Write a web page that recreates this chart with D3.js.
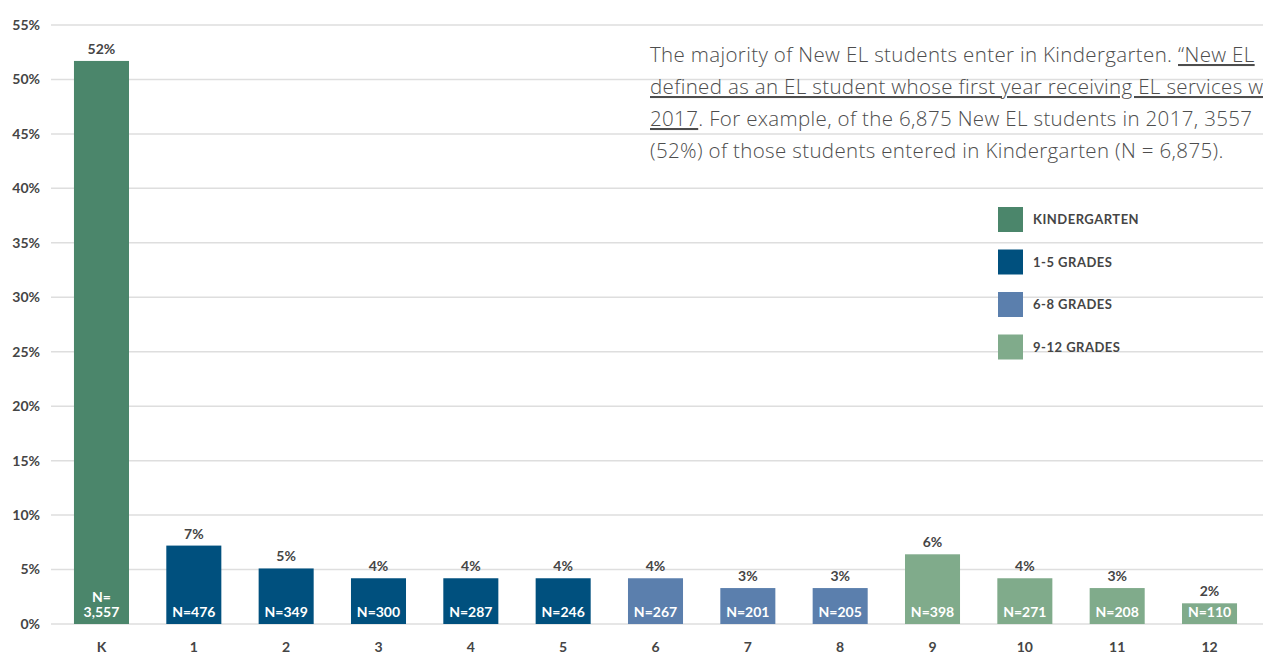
<!DOCTYPE html>
<html>
<head>
<meta charset="utf-8">
<script src="https://cdn.jsdelivr.net/npm/d3@7"></script>
<style>
  body { margin: 0; background: #fff; }
  svg { display: block; font-family: Lato, "Open Sans", sans-serif; }
</style>
</head>
<body>
<svg id="chart" width="1263" height="655"></svg>
<script>
// grades and share of new EL students (percent)
const grades = ["K", "1", "2", "3", "4", "5", "6", "7", "8", "9", "10", "11", "12"]
const shares = [51.7, 7.2, 5.1, 4.2, 4.2, 4.2, 4.2, 3.3, 3.3, 6.4, 4.2, 3.3, 1.9]
const counts = ["3,557", "476", "349", "300", "287", "246", "267", "201", "205", "398", "271", "208", "110"]
const bands = ["KINDERGARTEN", "1-5 GRADES", "1-5 GRADES", "1-5 GRADES", "1-5 GRADES", "1-5 GRADES",
  "6-8 GRADES", "6-8 GRADES", "6-8 GRADES", "9-12 GRADES", "9-12 GRADES", "9-12 GRADES", "9-12 GRADES"]
const legendKeys = ["KINDERGARTEN", "1-5 GRADES", "6-8 GRADES", "9-12 GRADES"]
const yTicks = [0, 5, 10, 15, 20, 25, 30, 35, 40, 45, 50, 55]

const svg = d3.select("#chart")
const width = 1263

const color = d3.scaleOrdinal().domain(legendKeys).range(["#4b866b", "#00507e", "#5b7fad", "#80ab8b"])

const x = d3.scaleBand().domain(grades).range([55.5, 1255.5]).paddingInner(0.404).paddingOuter(0.2)
const y = d3.scaleLinear().domain([0, 55]).range([624, 25])

// gridlines + y labels
const grid = svg.append("g")
grid.selectAll("line").data(yTicks).enter().append("line")
  .attr("x1", 51).attr("x2", width)
  .attr("y1", (d) => y(d)).attr("y2", (d) => y(d))
  .attr("stroke", "#dedede").attr("stroke-width", 1.5)
grid.selectAll("text").data(yTicks).enter().append("text")
  .attr("x", 40).attr("y", (d) => y(d)).attr("dy", "0.35em")
  .attr("text-anchor", "end").attr("font-size", 14).attr("font-weight", 700).attr("fill", "#454545")
  .text((d) => d + "%")

// annotation text (runs past the right edge like the original)
const note = svg.append("g").attr("font-family", "'Open Sans', sans-serif")
  .attr("font-size", 20.5).attr("font-weight", 300).attr("letter-spacing", 0.35).attr("fill", "#4d4d4d")
const noteLines = [
  [["The majority of New EL students enter in Kindergarten. ", false], ["\u201cNew EL", true]],
  [["defined as an EL student whose first year receiving EL services w", true]],
  [["2017", true], [". For example, of the 6,875 New EL students in 2017, 3557", false]],
  [["(52%) of those students entered in Kindergarten (N = 6,875).", false]]
]
noteLines.forEach((parts, i) => {
  const t = note.append("text").attr("x", 650).attr("y", 62 + i * 32)
  parts.forEach((p) => {
    t.append("tspan").text(p[0]).attr("text-decoration", p[1] ? "underline" : null)
  })
})

// bars
const bars = svg.append("g")
bars.selectAll("rect").data(grades).enter().append("rect")
  .attr("x", (d) => x(d)).attr("width", x.bandwidth())
  .attr("y", (d, i) => y(shares[i])).attr("height", (d, i) => y(0) - y(shares[i]))
  .attr("fill", (d, i) => color(bands[i]))

// percent labels
bars.selectAll(".pct").data(grades).enter().append("text").attr("class", "pct")
  .attr("x", (d) => x(d) + x.bandwidth() / 2).attr("y", (d, i) => y(shares[i]) - 7)
  .attr("text-anchor", "middle").attr("font-size", 14).attr("font-weight", 700).attr("fill", "#454545")
  .text((d, i) => Math.round(shares[i]) + "%")

// N labels inside bars
bars.selectAll(".n").data(grades).enter().append("text").attr("class", "n")
  .attr("x", (d) => x(d) + x.bandwidth() / 2).attr("y", 617)
  .attr("text-anchor", "middle").attr("font-size", 14).attr("font-weight", 700).attr("fill", "#fff")
  .each(function (d, i) {
    const t = d3.select(this)
    if (counts[i].length > 4) {
      t.append("tspan").attr("x", x(d) + x.bandwidth() / 2).attr("dy", "-1.1em").text("N=")
      t.append("tspan").attr("x", x(d) + x.bandwidth() / 2).attr("dy", "1.1em").text(counts[i])
    } else {
      t.text("N=" + counts[i])
    }
  })

// x labels
svg.append("g").selectAll("text").data(grades).enter().append("text")
  .attr("x", (d) => x(d) + x.bandwidth() / 2).attr("y", 652)
  .attr("text-anchor", "middle").attr("font-size", 14).attr("font-weight", 700).attr("fill", "#454545")
  .text((d) => d)

// legend
const legend = svg.append("g").selectAll("g").data(legendKeys).enter().append("g")
  .attr("transform", (d, i) => `translate(998,${207 + i * 42.5})`)
legend.append("rect").attr("width", 25).attr("height", 25).attr("fill", (d) => color(d))
legend.append("text").attr("x", 35).attr("y", 12.5).attr("dy", "0.35em")
  .attr("font-size", 13).attr("font-weight", 700).attr("letter-spacing", 0.5).attr("fill", "#454545")
  .text((d) => d)
</script>
</body>
</html>
